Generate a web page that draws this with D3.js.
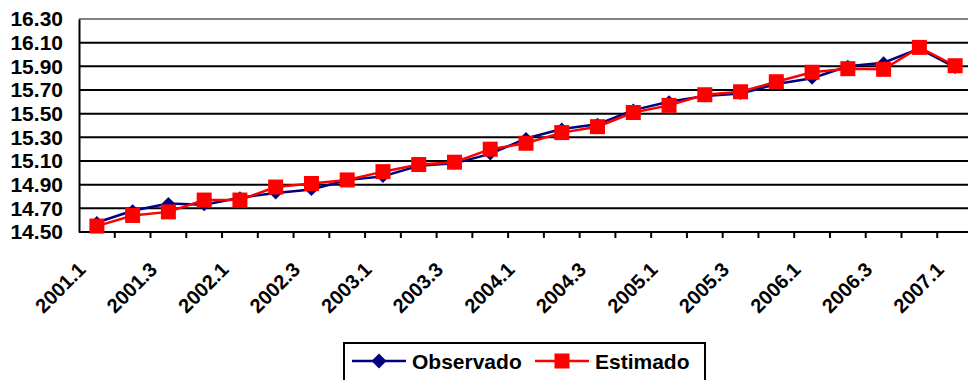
<!DOCTYPE html>
<html>
<head>
<meta charset="utf-8">
<script src="https://cdn.jsdelivr.net/npm/d3@7"></script>
<style>
  html, body { margin: 0; padding: 0; background: #fff; }
  svg { display: block; }
  text { font-family: "Liberation Sans", Arial, sans-serif; font-weight: bold; fill: #000; }
</style>
</head>
<body>
<svg id="chart" width="968" height="380"></svg>
<script>
// Quarterly periods
const periods = [
  "2001.1","2001.2","2001.3","2001.4",
  "2002.1","2002.2","2002.3","2002.4",
  "2003.1","2003.2","2003.3","2003.4",
  "2004.1","2004.2","2004.3","2004.4",
  "2005.1","2005.2","2005.3","2005.4",
  "2006.1","2006.2","2006.3","2006.4",
  "2007.1"
];

// Observed series
const observado = [
  14.58, 14.68, 14.74, 14.73, 14.79, 14.83, 14.86, 14.94, 14.97, 15.06,
  15.08, 15.16, 15.29, 15.37, 15.41, 15.53, 15.60, 15.65, 15.67, 15.75,
  15.80, 15.90, 15.93, 16.05, 15.89
];

// Estimated series
const estimado = [
  14.55, 14.64, 14.67, 14.77, 14.77, 14.88, 14.91, 14.94, 15.01, 15.07,
  15.09, 15.20, 15.25, 15.34, 15.39, 15.51, 15.57, 15.66, 15.685, 15.77,
  15.85, 15.88, 15.875, 16.06, 15.905
];

// Y axis tick values
const yTicks = [14.50, 14.70, 14.90, 15.10, 15.30, 15.50, 15.70, 15.90, 16.10, 16.30];

const seriesNames = ["Observado", "Estimado"];
const seriesColors = ["#000080", "#ff0000"];

const svg = d3.select("#chart");

const x = d3.scaleBand().domain(periods).range([79, 973]);
const y = d3.scaleLinear().domain([14.5, 16.3]).range([232, 19]);

// Horizontal gridlines
svg.append("g")
  .selectAll("line")
  .data(yTicks.slice(1))
  .join("line")
  .attr("x1", 79).attr("x2", 973)
  .attr("y1", d => y(d)).attr("y2", d => y(d))
  .attr("stroke", d => d === 16.3 ? "#808080" : "#000")
  .attr("stroke-width", 2);

// Y axis
const yAxis = svg.append("g")
  .attr("transform", "translate(79,0)")
  .call(d3.axisLeft(y).tickValues(yTicks).tickFormat(d3.format(".2f")).tickSize(0).tickPadding(16));
yAxis.select(".domain").attr("stroke", "#000").attr("stroke-width", 2);
yAxis.selectAll("text")
  .attr("font-size", 21)
  .attr("font-family", "'Liberation Sans', Arial, sans-serif")
  .attr("font-weight", "bold")
  .attr("fill", "#000");

// X axis with ticks at category boundaries
const xAxisG = svg.append("g").attr("transform", "translate(0,232)");
xAxisG.append("line")
  .attr("x1", 79).attr("x2", 973)
  .attr("stroke", "#000").attr("stroke-width", 2);
xAxisG.selectAll(".tick")
  .data(periods)
  .join("line")
  .attr("class", "tick")
  .attr("x1", d => x(d) + x.bandwidth())
  .attr("x2", d => x(d) + x.bandwidth())
  .attr("y1", 0).attr("y2", 6)
  .attr("stroke", "#000").attr("stroke-width", 2);

xAxisG.selectAll(".lbl")
  .data(periods.filter((d, i) => i % 2 === 0))
  .join("text")
  .attr("class", "lbl")
  .attr("font-size", 20)
  .attr("text-anchor", "end")
  .attr("transform", d => `translate(${x(d) + x.bandwidth() / 2 - 20},${29}) rotate(-45)`)
  .attr("dy", "0.7em")
  .text(d => d);

const cx = d => x(d) + x.bandwidth() / 2;
const lineGen = vals => d3.line()
  .x((v, i) => cx(periods[i]))
  .y(v => y(v))(vals);

// Observed line and diamonds
svg.append("path")
  .attr("d", lineGen(observado))
  .attr("fill", "none")
  .attr("stroke", seriesColors[0])
  .attr("stroke-width", 2.5);
const diamond = s => `M0,${-s}L${s},0L0,${s}L${-s},0Z`;
svg.append("g")
  .selectAll("path")
  .data(observado)
  .join("path")
  .attr("transform", (v, i) => `translate(${cx(periods[i])},${y(v)})`)
  .attr("d", diamond(6.5))
  .attr("fill", seriesColors[0]);

// Estimated line and squares
svg.append("path")
  .attr("d", lineGen(estimado))
  .attr("fill", "none")
  .attr("stroke", seriesColors[1])
  .attr("stroke-width", 2.5);
svg.append("g")
  .selectAll("rect")
  .data(estimado)
  .join("rect")
  .attr("x", (v, i) => cx(periods[i]) - 7.5)
  .attr("y", v => y(v) - 7.5)
  .attr("width", 15).attr("height", 15)
  .attr("fill", seriesColors[1]);

// Legend
const legend = svg.append("g");
legend.append("rect")
  .attr("x", 344).attr("y", 343)
  .attr("width", 361).attr("height", 50)
  .attr("fill", "#fff").attr("stroke", "#000").attr("stroke-width", 2);

const legendItems = [
  { name: seriesNames[0], color: seriesColors[0], x0: 352, marker: "diamond" },
  { name: seriesNames[1], color: seriesColors[1], x0: 535, marker: "square" }
];
const ly = 361;
legendItems.forEach(it => {
  legend.append("line")
    .attr("x1", it.x0).attr("x2", it.x0 + 54)
    .attr("y1", ly).attr("y2", ly)
    .attr("stroke", it.color).attr("stroke-width", 2.5);
  if (it.marker === "diamond") {
    legend.append("path")
      .attr("transform", `translate(${it.x0 + 27},${ly})`)
      .attr("d", diamond(7.5))
      .attr("fill", it.color);
  } else {
    legend.append("rect")
      .attr("x", it.x0 + 27 - 7.5).attr("y", ly - 7.5)
      .attr("width", 15).attr("height", 15)
      .attr("fill", it.color);
  }
  legend.append("text")
    .attr("x", it.x0 + 60).attr("y", ly)
    .attr("dy", "0.36em")
    .attr("font-size", 21)
    .text(it.name);
});
</script>
</body>
</html>
